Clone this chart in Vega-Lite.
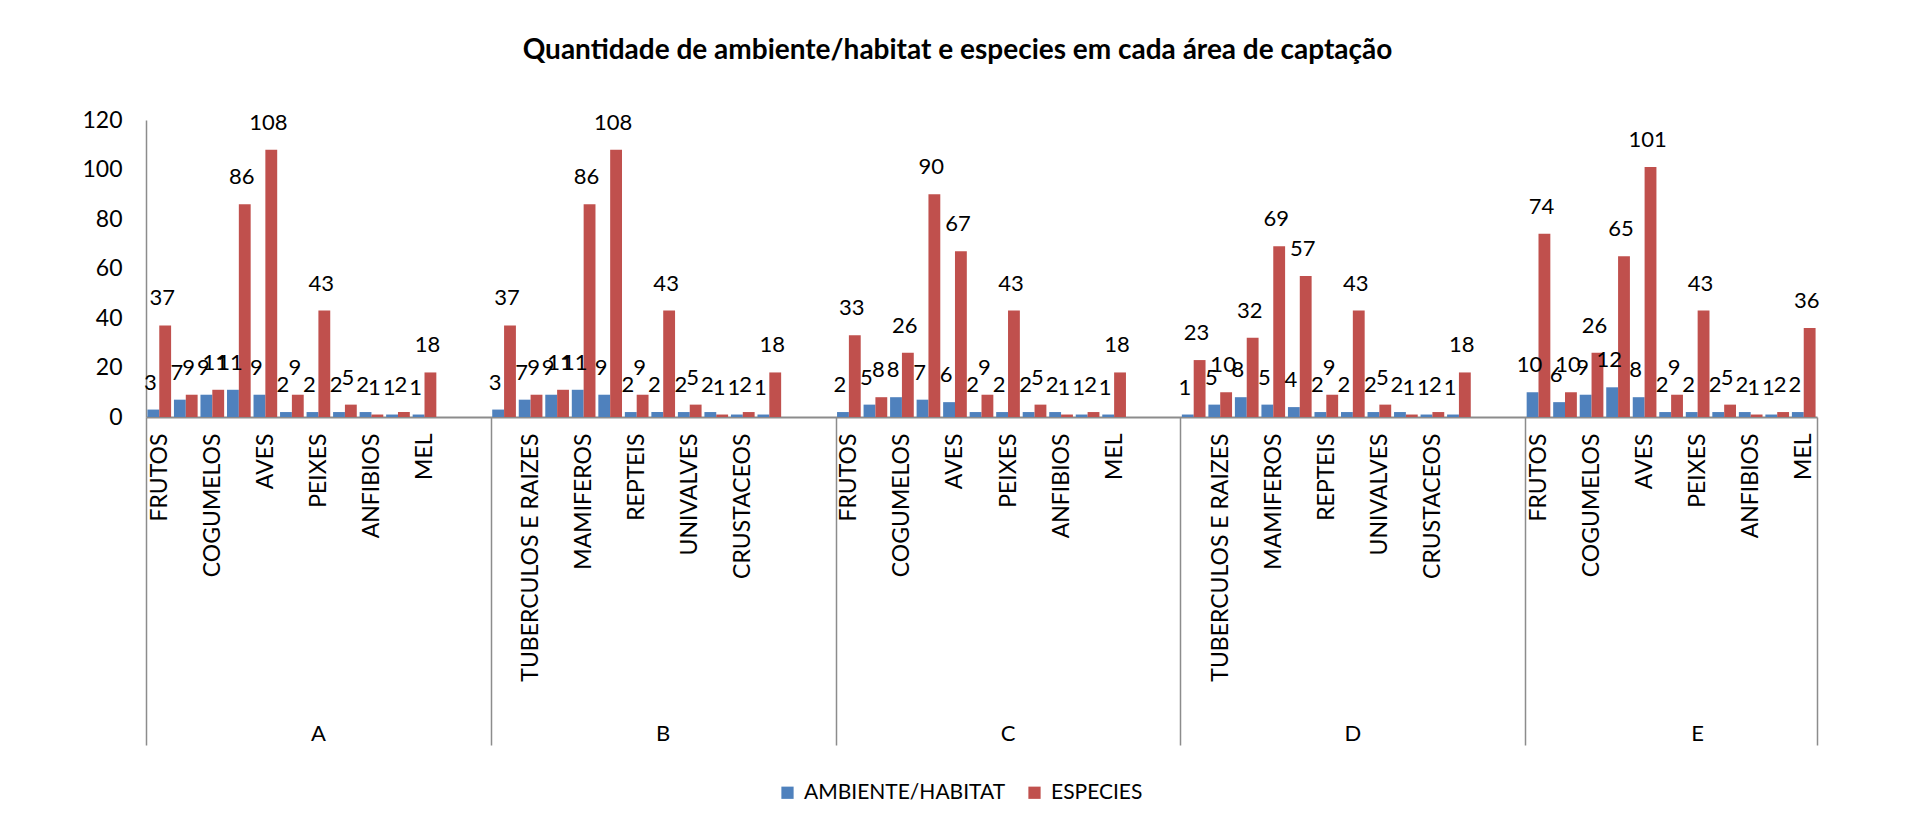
{
  "$schema": "https://vega.github.io/schema/vega-lite/v6.json",
  "autosize": {"type": "none"},
  "padding": {"left": 146, "top": 120, "right": 93, "bottom": 414},
  "width": 1671,
  "height": 297,
  "background": "white",
  "title": {
    "text": "Quantidade de ambiente/habitat e especies em cada área de captação",
    "font": "Lato",
    "fontSize": 28,
    "fontWeight": "bold",
    "color": "#000000",
    "anchor": "middle",
    "frame": "group",
    "dx": -24,
    "offset": 44
  },
  "config": {
    "view": {"stroke": null},
    "font": "Lato",
    "text": {"font": "Lato"}
  },
  "layer": [
    {
      "data": {
        "values": [
          {"slot": "A|FRUTOS", "AMBIENTE/HABITAT": 3, "ESPECIES": 37},
          {"slot": "A|TUBERCULOS E RAIZES", "AMBIENTE/HABITAT": 7, "ESPECIES": 9},
          {"slot": "A|COGUMELOS", "AMBIENTE/HABITAT": 9, "ESPECIES": 11},
          {"slot": "A|MAMIFEROS", "AMBIENTE/HABITAT": 11, "ESPECIES": 86},
          {"slot": "A|AVES", "AMBIENTE/HABITAT": 9, "ESPECIES": 108},
          {"slot": "A|REPTEIS", "AMBIENTE/HABITAT": 2, "ESPECIES": 9},
          {"slot": "A|PEIXES", "AMBIENTE/HABITAT": 2, "ESPECIES": 43},
          {"slot": "A|UNIVALVES", "AMBIENTE/HABITAT": 2, "ESPECIES": 5},
          {"slot": "A|ANFIBIOS", "AMBIENTE/HABITAT": 2, "ESPECIES": 1},
          {"slot": "A|CRUSTACEOS", "AMBIENTE/HABITAT": 1, "ESPECIES": 2},
          {"slot": "A|MEL", "AMBIENTE/HABITAT": 1, "ESPECIES": 18},
          {"slot": "B|FRUTOS", "AMBIENTE/HABITAT": 3, "ESPECIES": 37},
          {"slot": "B|TUBERCULOS E RAIZES", "AMBIENTE/HABITAT": 7, "ESPECIES": 9},
          {"slot": "B|COGUMELOS", "AMBIENTE/HABITAT": 9, "ESPECIES": 11},
          {"slot": "B|MAMIFEROS", "AMBIENTE/HABITAT": 11, "ESPECIES": 86},
          {"slot": "B|AVES", "AMBIENTE/HABITAT": 9, "ESPECIES": 108},
          {"slot": "B|REPTEIS", "AMBIENTE/HABITAT": 2, "ESPECIES": 9},
          {"slot": "B|PEIXES", "AMBIENTE/HABITAT": 2, "ESPECIES": 43},
          {"slot": "B|UNIVALVES", "AMBIENTE/HABITAT": 2, "ESPECIES": 5},
          {"slot": "B|ANFIBIOS", "AMBIENTE/HABITAT": 2, "ESPECIES": 1},
          {"slot": "B|CRUSTACEOS", "AMBIENTE/HABITAT": 1, "ESPECIES": 2},
          {"slot": "B|MEL", "AMBIENTE/HABITAT": 1, "ESPECIES": 18},
          {"slot": "C|FRUTOS", "AMBIENTE/HABITAT": 2, "ESPECIES": 33},
          {"slot": "C|TUBERCULOS E RAIZES", "AMBIENTE/HABITAT": 5, "ESPECIES": 8},
          {"slot": "C|COGUMELOS", "AMBIENTE/HABITAT": 8, "ESPECIES": 26},
          {"slot": "C|MAMIFEROS", "AMBIENTE/HABITAT": 7, "ESPECIES": 90},
          {"slot": "C|AVES", "AMBIENTE/HABITAT": 6, "ESPECIES": 67},
          {"slot": "C|REPTEIS", "AMBIENTE/HABITAT": 2, "ESPECIES": 9},
          {"slot": "C|PEIXES", "AMBIENTE/HABITAT": 2, "ESPECIES": 43},
          {"slot": "C|UNIVALVES", "AMBIENTE/HABITAT": 2, "ESPECIES": 5},
          {"slot": "C|ANFIBIOS", "AMBIENTE/HABITAT": 2, "ESPECIES": 1},
          {"slot": "C|CRUSTACEOS", "AMBIENTE/HABITAT": 1, "ESPECIES": 2},
          {"slot": "C|MEL", "AMBIENTE/HABITAT": 1, "ESPECIES": 18},
          {"slot": "D|FRUTOS", "AMBIENTE/HABITAT": 1, "ESPECIES": 23},
          {"slot": "D|TUBERCULOS E RAIZES", "AMBIENTE/HABITAT": 5, "ESPECIES": 10},
          {"slot": "D|COGUMELOS", "AMBIENTE/HABITAT": 8, "ESPECIES": 32},
          {"slot": "D|MAMIFEROS", "AMBIENTE/HABITAT": 5, "ESPECIES": 69},
          {"slot": "D|AVES", "AMBIENTE/HABITAT": 4, "ESPECIES": 57},
          {"slot": "D|REPTEIS", "AMBIENTE/HABITAT": 2, "ESPECIES": 9},
          {"slot": "D|PEIXES", "AMBIENTE/HABITAT": 2, "ESPECIES": 43},
          {"slot": "D|UNIVALVES", "AMBIENTE/HABITAT": 2, "ESPECIES": 5},
          {"slot": "D|ANFIBIOS", "AMBIENTE/HABITAT": 2, "ESPECIES": 1},
          {"slot": "D|CRUSTACEOS", "AMBIENTE/HABITAT": 1, "ESPECIES": 2},
          {"slot": "D|MEL", "AMBIENTE/HABITAT": 1, "ESPECIES": 18},
          {"slot": "E|FRUTOS", "AMBIENTE/HABITAT": 10, "ESPECIES": 74},
          {"slot": "E|TUBERCULOS E RAIZES", "AMBIENTE/HABITAT": 6, "ESPECIES": 10},
          {"slot": "E|COGUMELOS", "AMBIENTE/HABITAT": 9, "ESPECIES": 26},
          {"slot": "E|MAMIFEROS", "AMBIENTE/HABITAT": 12, "ESPECIES": 65},
          {"slot": "E|AVES", "AMBIENTE/HABITAT": 8, "ESPECIES": 101},
          {"slot": "E|REPTEIS", "AMBIENTE/HABITAT": 2, "ESPECIES": 9},
          {"slot": "E|PEIXES", "AMBIENTE/HABITAT": 2, "ESPECIES": 43},
          {"slot": "E|UNIVALVES", "AMBIENTE/HABITAT": 2, "ESPECIES": 5},
          {"slot": "E|ANFIBIOS", "AMBIENTE/HABITAT": 2, "ESPECIES": 1},
          {"slot": "E|CRUSTACEOS", "AMBIENTE/HABITAT": 1, "ESPECIES": 2},
          {"slot": "E|MEL", "AMBIENTE/HABITAT": 2, "ESPECIES": 36}
        ]
      },
      "transform": [
        {"fold": ["AMBIENTE/HABITAT", "ESPECIES"], "as": ["serie", "valor"]}
      ],
      "encoding": {
        "x": {
          "field": "slot",
          "type": "nominal",
          "sort": null,
          "scale": {
            "domain": [
              "A|FRUTOS", "A|TUBERCULOS E RAIZES", "A|COGUMELOS", "A|MAMIFEROS", "A|AVES", "A|REPTEIS", "A|PEIXES", "A|UNIVALVES", "A|ANFIBIOS", "A|CRUSTACEOS", "A|MEL", "A|~1", "A|~2",
              "B|FRUTOS", "B|TUBERCULOS E RAIZES", "B|COGUMELOS", "B|MAMIFEROS", "B|AVES", "B|REPTEIS", "B|PEIXES", "B|UNIVALVES", "B|ANFIBIOS", "B|CRUSTACEOS", "B|MEL", "B|~1", "B|~2",
              "C|FRUTOS", "C|TUBERCULOS E RAIZES", "C|COGUMELOS", "C|MAMIFEROS", "C|AVES", "C|REPTEIS", "C|PEIXES", "C|UNIVALVES", "C|ANFIBIOS", "C|CRUSTACEOS", "C|MEL", "C|~1", "C|~2",
              "D|FRUTOS", "D|TUBERCULOS E RAIZES", "D|COGUMELOS", "D|MAMIFEROS", "D|AVES", "D|REPTEIS", "D|PEIXES", "D|UNIVALVES", "D|ANFIBIOS", "D|CRUSTACEOS", "D|MEL", "D|~1", "D|~2",
              "E|FRUTOS", "E|TUBERCULOS E RAIZES", "E|COGUMELOS", "E|MAMIFEROS", "E|AVES", "E|REPTEIS", "E|PEIXES", "E|UNIVALVES", "E|ANFIBIOS", "E|CRUSTACEOS", "E|MEL"
            ],
            "paddingInner": 0,
            "paddingOuter": 0
          },
          "axis": {
            "title": null,
            "labelExpr": "indexof(['FRUTOS','TUBERCULOS E RAIZES','COGUMELOS','MAMIFEROS','AVES','REPTEIS','PEIXES','UNIVALVES','ANFIBIOS','CRUSTACEOS','MEL'], split(datum.value,'|')[1]) >= 0 && (indexof(['FRUTOS','TUBERCULOS E RAIZES','COGUMELOS','MAMIFEROS','AVES','REPTEIS','PEIXES','UNIVALVES','ANFIBIOS','CRUSTACEOS','MEL'], split(datum.value,'|')[1]) + indexof(['A','B','C','D','E'], split(datum.value,'|')[0])) % 2 == 0 ? split(datum.value,'|')[1] : ''",
            "labelAngle": -90,
            "labelAlign": "right",
            "labelBaseline": "middle",
            "labelFont": "Lato",
            "labelFontSize": 23,
            "labelColor": "#000000",
            "labelLimit": 500,
            "labelOverlap": false,
            "labelPadding": -312,
            "tickBand": "extent",
            "tickSize": 328,
            "tickWidth": 1.5,
            "tickColor": "#8c8c8c",
            "tickOpacity": {
              "condition": {
                "test": "datum.extra || indexof(['A|~2','B|~2','C|~2','D|~2','E|MEL'], datum.value) >= 0",
                "value": 1
              },
              "value": 0
            },
            "domainColor": "#8c8c8c",
            "domainWidth": 2
          }
        },
        "y": {
          "field": "valor",
          "type": "quantitative",
          "scale": {"domain": [0, 120], "nice": false},
          "axis": {
            "title": null,
            "values": [0, 20, 40, 60, 80, 100, 120],
            "grid": false,
            "ticks": false,
            "labelPadding": 24,
            "labelFont": "Lato",
            "labelFontSize": 23,
            "labelColor": "#000000",
            "domainColor": "#8c8c8c",
            "domainWidth": 1.5
          }
        },
        "xOffset": {
          "field": "serie",
          "type": "nominal",
          "sort": ["AMBIENTE/HABITAT", "ESPECIES"],
          "scale": {"paddingInner": 0, "paddingOuter": 0.12}
        }
      },
      "layer": [
        {
          "mark": {"type": "bar", "strokeWidth": 0},
          "encoding": {
            "color": {
              "field": "serie",
              "type": "nominal",
              "sort": ["AMBIENTE/HABITAT", "ESPECIES"],
              "scale": {"domain": ["AMBIENTE/HABITAT", "ESPECIES"], "range": ["#4F81BD", "#C0504D"]},
              "legend": {
                "title": null,
                "orient": "none",
                "direction": "horizontal",
                "legendX": 631,
                "legendY": 662,
                "symbolType": "square",
                "symbolSize": 150,
                "symbolStrokeWidth": 0,
                "labelFont": "Lato",
                "labelFontSize": 21,
                "labelLimit": 400,
                "labelColor": "#000000",
                "labelOffset": 6,
                "columnPadding": 18
              }
            }
          }
        },
        {
          "mark": {"type": "text", "baseline": "alphabetic", "dy": -20, "dx": -3, "fontSize": 22, "font": "Lato", "color": "#000000"},
          "encoding": {
            "text": {"field": "valor", "type": "quantitative"}
          }
        }
      ]
    },
    {
      "data": {
        "values": [
          {"area": "A", "slot": "A|PEIXES"},
          {"area": "B", "slot": "B|PEIXES"},
          {"area": "C", "slot": "C|PEIXES"},
          {"area": "D", "slot": "D|PEIXES"},
          {"area": "E", "slot": "E|PEIXES"}
        ]
      },
      "mark": {"type": "text", "baseline": "middle", "dy": 317, "fontSize": 22, "font": "Lato", "color": "#000000"},
      "encoding": {
        "x": {"field": "slot", "type": "nominal", "sort": null, "axis": {"title": null}},
        "y": {"datum": 0, "type": "quantitative", "axis": {"title": null}},
        "text": {"field": "area"}
      }
    }
  ]
}
